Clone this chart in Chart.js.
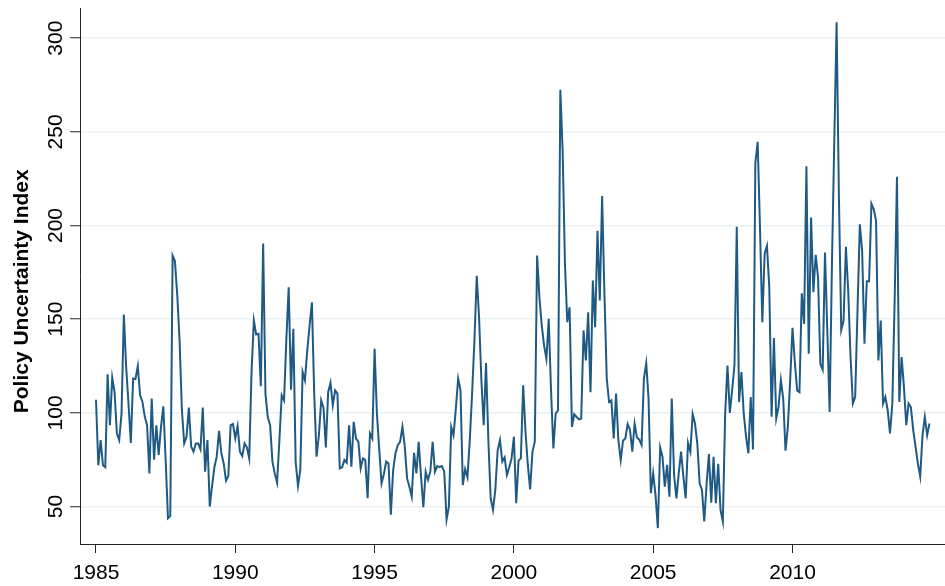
<!DOCTYPE html>
<html>
<head>
<meta charset="utf-8">
<script src="https://cdn.jsdelivr.net/npm/chart.js@4/dist/chart.umd.min.js"></script>
<style>
  html, body { margin: 0; padding: 0; background: #ffffff; }
  #wrap { width: 945px; height: 586px; }
</style>
</head>
<body>
<div id="wrap"><canvas id="c" width="945" height="586"></canvas></div>
<script>
// Monthly Policy Uncertainty Index, Jan 1985 - Dec 2014
const startYear = 1985;
const y1985 = [107, 72, 85.5, 72, 71, 120.6, 93.4, 118.8, 111, 89, 85.5, 99.6];
const y1986 = [152.5, 124.5, 105, 84, 118.3, 118, 125, 109.4, 106, 98, 93.4, 67.7];
const y1987 = [107.6, 75, 93.4, 77.5, 92.5, 103.5, 75, 43.8, 45, 184, 181, 163];
const y1988 = [138.6, 101.4, 83.7, 87.2, 102.8, 82, 79.3, 83.7, 83.7, 80.5, 102.8, 68.6];
const y1989 = [85.5, 50, 61, 71, 76.6, 90.4, 78.4, 73, 63.8, 66.3, 93.4, 94];
const y1990 = [86.3, 92.9, 79.3, 77, 83.7, 81.6, 75.7, 121.8, 149.3, 141.8, 142.2, 114.2];
const y1991 = [190.4, 110, 97.8, 93.4, 74, 67.7, 62.8, 85.5, 109.4, 106.7, 139.5, 167];
const y1992 = [112.4, 144.9, 74, 61, 69.5, 121.8, 117.4, 133.3, 146.6, 159, 110, 76.6];
const y1993 = [88, 106.7, 102.8, 81.6, 111, 116, 104, 112, 110.3, 70.4, 71, 74.8];
const y1994 = [73.4, 93.4, 71.3, 95.2, 86.3, 84.6, 70.4, 75.7, 74.8, 54.4, 89, 86.3];
const y1995 = [134.2, 99.6, 80.5, 62.4, 67.4, 74, 73, 45.6, 69.5, 78.4, 82.8, 84.6];
const y1996 = [92.5, 82, 65, 60.6, 55.3, 78.7, 67.7, 84.6, 66, 49.6, 68.6, 64.2];
const y1997 = [68.6, 84.6, 68.6, 71.6, 71, 71.6, 68.6, 43, 50, 92.5, 88, 102.3];
const y1998 = [118.3, 112, 61.5, 69.9, 65.6, 85.5, 110.3, 138.6, 173.2, 151, 117.4, 93.4];
const y1999 = [126.6, 85.5, 54.4, 48.2, 58.9, 80, 85.5, 74, 76.2, 66.8, 71, 75.7];
const y2000 = [87.2, 51.8, 74.5, 75.7, 114.7, 89.9, 72.2, 59.2, 79.3, 84.6, 184, 161.7];
const y2001 = [146.6, 136, 128.9, 150.2, 112, 81, 99.6, 101.4, 272.5, 239.7, 179.4, 148.4];
const y2002 = [156.4, 92.5, 99.3, 97.8, 96.5, 97, 144, 128, 153.7, 111, 170.6, 145.7];
const y2003 = [197.2, 160, 215.8, 163.5, 118.3, 105.8, 106.7, 86.3, 110.3, 85.5, 74.8, 85.1];
const y2004 = [86.3, 94, 91, 79.3, 94.3, 86.8, 85.7, 82.8, 118.3, 126.6, 107.6, 57.1];
const y2005 = [67.7, 56.2, 38.5, 81.6, 76.6, 60.6, 72.2, 55.3, 107.6, 66.8, 54.4, 67.7];
const y2006 = [79.3, 66, 54.4, 84, 79.3, 99.3, 94.3, 83.7, 62.4, 58.9, 42, 62];
const y2007 = [78, 52, 76.6, 51.8, 72.8, 48.2, 42, 99.6, 125.3, 100, 112, 125.3];
const y2008 = [199.3, 105.8, 121.8, 99.6, 87.2, 78.4, 108.5, 80.5, 233.5, 244.7, 199, 148.4];
const y2009 = [185, 189.2, 167, 97.9, 140, 97, 103.2, 117.4, 107.6, 79.8, 92.5, 117.4];
const y2010 = [145.4, 127, 112, 111, 163.8, 147.5, 231.7, 131.6, 204.3, 164.4, 184.4, 172.3];
const y2011 = [126.2, 123, 185.6, 144, 100.5, 180, 245, 308.5, 215, 144.3, 149.3, 188.7];
const y2012 = [165, 130, 105, 108.5, 154.6, 200.7, 186.5, 136.9, 170.2, 170.2, 211.7, 208.7];
const y2013 = [202.5, 128, 149.3, 105, 108.5, 101.4, 89, 105, 160, 226, 105.8, 129.8];
const y2014 = [114, 93.4, 105, 103, 90.8, 82, 73, 66, 88, 97.8, 88, 94.3];

const yearTicks = [1985, 1990, 1995, 2000, 2005, 2010];
const valueTicks = [50, 100, 150, 200, 250, 300];
const yTitle = 'Policy Uncertainty Index';

const allYears = [y1985, y1986, y1987, y1988, y1989, y1990, y1991, y1992, y1993, y1994,
  y1995, y1996, y1997, y1998, y1999, y2000, y2001, y2002, y2003, y2004,
  y2005, y2006, y2007, y2008, y2009, y2010, y2011, y2012, y2013, y2014];
const points = [];
allYears.forEach((arr, yi) => arr.forEach((v, m) => points.push({ x: startYear + yi + m / 12, y: v })));

const FONT = "'Liberation Sans', Arial, Helvetica, sans-serif";
const AXIS = '#262626';

const yTitlePlugin = {
  id: 'yTitle',
  afterDraw(chart) {
    const ctx = chart.ctx;
    const yScale = chart.scales.y;
    ctx.save();
    ctx.font = 'bold 21px ' + FONT;
    ctx.fillStyle = '#000000';
    ctx.textAlign = 'center';
    ctx.textBaseline = 'alphabetic';
    const cy = (yScale.top + yScale.bottom) / 2 + 15;
    ctx.translate(28, cy);
    ctx.rotate(-Math.PI / 2);
    ctx.fillText(yTitle, 0, 0);
    ctx.restore();
  }
};

new Chart(document.getElementById('c'), {
  type: 'line',
  data: {
    datasets: [{
      data: points,
      borderColor: '#1f5a84',
      borderWidth: 2,
      pointRadius: 0,
      tension: 0,
      fill: false
    }]
  },
  options: {
    responsive: false,
    animation: false,
    devicePixelRatio: 1,
    layout: { padding: { left: 0, top: 7, right: 0, bottom: 0 } },
    plugins: { legend: { display: false }, tooltip: { enabled: false }, title: { display: false } },
    scales: {
      x: {
        type: 'linear',
        min: 1984.426,
        max: 2015.474,
        afterBuildTicks: s => { s.ticks = yearTicks.map(v => ({ value: v })); },
        afterFit: s => { s.height = 42; },
        ticks: {
          autoSkip: false,
          maxRotation: 0,
          padding: 8,
          color: '#000000',
          font: { family: FONT, size: 21 },
          callback: v => String(v)
        },
        grid: { drawOnChartArea: false, drawTicks: true, tickLength: 9, tickColor: AXIS, tickWidth: 1 },
        border: { display: true, color: AXIS, width: 1 }
      },
      y: {
        type: 'linear',
        min: 30,
        max: 315.8,
        afterBuildTicks: s => { s.ticks = valueTicks.map(v => ({ value: v })); },
        afterFit: s => { s.width = 80; },
        ticks: {
          minRotation: 90,
          maxRotation: 90,
          crossAlign: 'center',
          padding: -4,
          color: '#000000',
          font: { family: FONT, size: 21 },
          callback: v => String(v)
        },
        grid: { color: '#e9f1f2', lineWidth: 1.5, drawTicks: true, tickLength: 10, tickColor: AXIS, tickWidth: 1 },
        border: { display: true, color: AXIS, width: 1 }
      }
    }
  },
  plugins: [yTitlePlugin]
});
</script>
</body>
</html>
